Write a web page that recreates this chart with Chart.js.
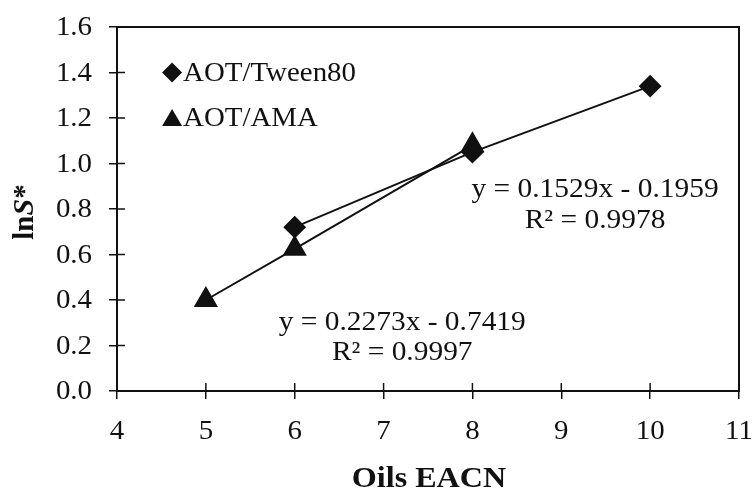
<!DOCTYPE html>
<html><head><meta charset="utf-8">
<script src="https://cdn.jsdelivr.net/npm/chart.js@4"></script>
<style>html,body{margin:0;padding:0;background:#fff}#w{width:754px;height:494px}</style>
</head><body><div id="w"><canvas id="c" width="754" height="494"></canvas></div>
<script>
const xTween = [6, 8, 10];
const yTween = [0.72, 1.05, 1.34];
const xAMA = [5, 6, 8];
const yAMA = [0.40, 0.625, 1.08];
const seriesNames = ['AOT/Tween80', 'AOT/AMA'];
const xTicks = [4, 5, 6, 7, 8, 9, 10, 11];
const yTicks = [0.0, 0.2, 0.4, 0.6, 0.8, 1.0, 1.2, 1.4, 1.6];
const eqTween = ['y = 0.1529x - 0.1959', 'R\u00B2 = 0.9978'];
const eqAMA = ['y = 0.2273x - 0.7419', 'R\u00B2 = 0.9997'];
const xTitle = 'Oils EACN';
const yTitleParts = ['ln', 'S', '*'];

const FONT = '"Liberation Serif", "Times New Roman", serif';
const SX = 1.07; // slight horizontal glyph stretch seen in the reference
const toPts = (xs, ys) => xs.map((x, i) => ({x, y: ys[i]}));

function stretchText(ctx, text, x, y, font, align, sx) {
  ctx.save();
  ctx.translate(x, y);
  ctx.scale(sx || SX, 1);
  ctx.font = font;
  ctx.textAlign = align;
  ctx.textBaseline = 'middle';
  ctx.fillText(text, 0, 0);
  ctx.restore();
}

const overlay = {
  id: 'overlay',
  afterDraw(chart) {
    const {ctx, chartArea: a, scales: {x, y}} = chart;
    ctx.save();
    ctx.strokeStyle = '#111';
    ctx.fillStyle = '#111';
    ctx.lineWidth = 2;
    ctx.strokeRect(a.left, a.top, a.right - a.left, a.bottom - a.top);
    // inner tick halves
    ctx.lineWidth = 1.5;
    xTicks.forEach(v => { const px = x.getPixelForValue(v); ctx.beginPath(); ctx.moveTo(px, a.bottom); ctx.lineTo(px, a.bottom - 8); ctx.stroke(); });
    yTicks.forEach(v => { const py = y.getPixelForValue(v); ctx.beginPath(); ctx.moveTo(a.left, py); ctx.lineTo(a.left + 8, py); ctx.stroke(); });
    // tick labels
    const tf = '27px ' + FONT;
    xTicks.forEach(v => stretchText(ctx, String(v), x.getPixelForValue(v), a.bottom + 41, tf, 'center'));
    yTicks.forEach(v => stretchText(ctx, v.toFixed(1), a.left - 25, y.getPixelForValue(v) + 1, tf, 'right'));
    // axis titles
    stretchText(ctx, xTitle, (a.left + a.right) / 2 + 1, a.bottom + 88, 'bold 30px ' + FONT, 'center');
    ctx.save();
    ctx.translate(33, 212);
    ctx.rotate(-Math.PI / 2);
    const f1 = 'bold 29px ' + FONT, f2 = 'italic bold 30px ' + FONT;
    ctx.font = f1; const w1 = ctx.measureText(yTitleParts[0]).width;
    ctx.font = f2; const w2 = ctx.measureText(yTitleParts[1]).width;
    ctx.font = f1; const w3 = ctx.measureText(yTitleParts[2]).width;
    let sx = -(w1 + w2 + w3) / 2;
    ctx.textAlign = 'left';
    ctx.textBaseline = 'alphabetic';
    ctx.font = f1; ctx.fillText(yTitleParts[0], sx, 0); sx += w1;
    ctx.font = f2; ctx.fillText(yTitleParts[1], sx, 0); sx += w2;
    ctx.font = f1; ctx.fillText(yTitleParts[2], sx, 0);
    ctx.restore();
    // legend
    const lf = '27px ' + FONT;
    const lx = x.getPixelForValue(4.62);
    const l1 = y.getPixelForValue(1.40), l2 = y.getPixelForValue(1.20);
    ctx.beginPath(); ctx.moveTo(lx, l1 - 10); ctx.lineTo(lx + 10, l1); ctx.lineTo(lx, l1 + 10); ctx.lineTo(lx - 10, l1); ctx.closePath(); ctx.fill();
    ctx.beginPath(); ctx.moveTo(lx, l2 - 9); ctx.lineTo(lx + 10, l2 + 8); ctx.lineTo(lx - 10, l2 + 8); ctx.closePath(); ctx.fill();
    stretchText(ctx, seriesNames[0], lx + 11, l1 + 1, lf, 'left');
    stretchText(ctx, seriesNames[1], lx + 11, l2 + 1, lf, 'left');
    // equations
    stretchText(ctx, eqTween[0], x.getPixelForValue(9.38), y.getPixelForValue(0.884), lf, 'center', 1.09);
    stretchText(ctx, eqTween[1], x.getPixelForValue(9.38), y.getPixelForValue(0.747), lf, 'center', 1.09);
    stretchText(ctx, eqAMA[0], x.getPixelForValue(7.21), y.getPixelForValue(0.299), lf, 'center', 1.09);
    stretchText(ctx, eqAMA[1], x.getPixelForValue(7.21), y.getPixelForValue(0.167), lf, 'center', 1.09);
    ctx.restore();
  }
};

new Chart(document.getElementById('c'), {
  type: 'scatter',
  data: {
    datasets: [
      {label: seriesNames[0], data: toPts(xTween, yTween), showLine: true, borderColor: '#111', backgroundColor: '#111', borderWidth: 2, pointStyle: 'rectRot', pointRadius: 10, pointHoverRadius: 10},
      {label: seriesNames[1], data: toPts(xAMA, yAMA), showLine: true, borderColor: '#111', backgroundColor: '#111', borderWidth: 2, pointStyle: 'triangle', pointRadius: 12, pointHoverRadius: 12}
    ]
  },
  options: {
    responsive: false,
    animation: false,
    events: [],
    layout: {padding: {top: 27, right: 15, left: 0, bottom: 0}},
    plugins: {legend: {display: false}, tooltip: {enabled: false}},
    scales: {
      x: {
        type: 'linear', min: 4, max: 11,
        afterBuildTicks: s => { s.ticks = xTicks.map(v => ({value: v})); },
        afterFit: s => { s.height = 103; s.paddingLeft = 0; s.paddingRight = 0; },
        grid: {drawOnChartArea: false, color: '#111', lineWidth: 1.5, tickLength: 8, tickColor: '#111'},
        border: {display: true, color: '#111', width: 2},
        ticks: {display: false},
        title: {display: false}
      },
      y: {
        type: 'linear', min: 0, max: 1.6,
        afterBuildTicks: s => { s.ticks = yTicks.map(v => ({value: v})); },
        afterFit: s => { s.width = 117; s.paddingTop = 0; s.paddingBottom = 0; },
        grid: {drawOnChartArea: false, color: '#111', lineWidth: 1.5, tickLength: 8, tickColor: '#111'},
        border: {display: true, color: '#111', width: 2},
        ticks: {display: false},
        title: {display: false}
      }
    }
  },
  plugins: [overlay]
});
</script></body></html>
